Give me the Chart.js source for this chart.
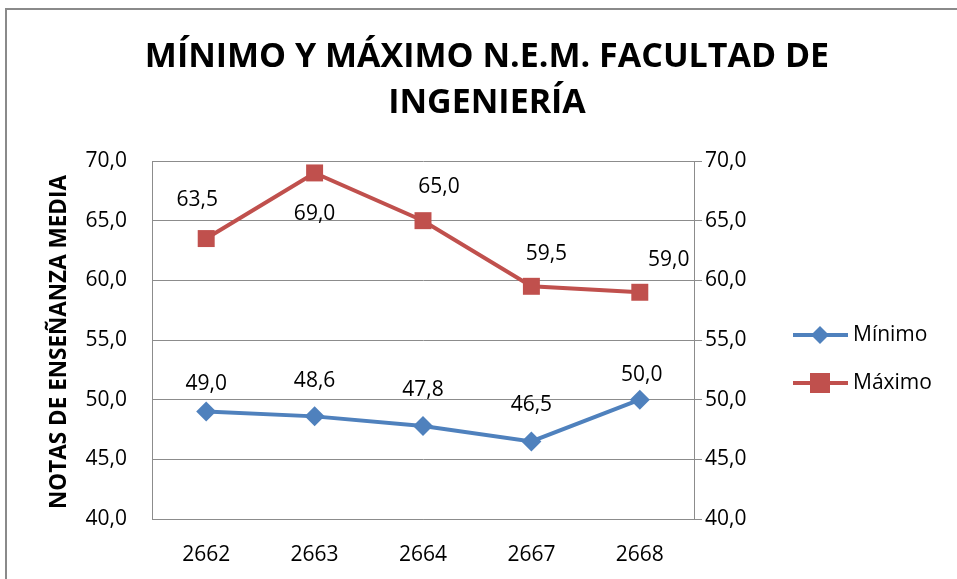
<!DOCTYPE html>
<html lang="es">
<head>
<meta charset="UTF-8">
<title>Mínimo y Máximo N.E.M. Facultad de Ingeniería</title>
<script src="https://cdn.jsdelivr.net/npm/chart.js@4.4.0/dist/chart.umd.min.js"></script>
<style>
    html, body { margin: 0; padding: 0; background: #ffffff; }
    #wrap { position: relative; width: 957px; height: 579px; }
</style>
</head>
<body>
<div id="wrap"><canvas id="nemChart" width="957" height="579"></canvas></div>
<script>
// datos
const carreras = ['2662', '2663', '2664', '2667', '2668'];
const minimo = [49.0, 48.6, 47.8, 46.5, 50.0];
const maximo = [63.5, 69.0, 65.0, 59.5, 59.0];
const yTicks = [40, 45, 50, 55, 60, 65, 70];

const FONT = "'Open Sans', 'DejaVu Sans', sans-serif";
const BLUE = '#4f81bd';
const RED = '#c0504d';
const GRID = '#8c8c8c';

// desplazamiento de las etiquetas respecto al punto (px)
const labelShift = {
    0: { dx: [0, 0, 0, 0, 2], dy: [-28, -35, -36, -36, -25] },
    1: { dx: [-9, 0, 16, 15, 29], dy: [-39, 41, -34, -32, -32] }
};

const fmt = v => v.toFixed(1).replace('.', ',');

const decor = {
    id: 'decor',
    afterDraw(chart) {
        const ctx = chart.ctx;
        const area = chart.chartArea;
        ctx.save();
        // marco
        ctx.strokeStyle = '#8a8a8a';
        ctx.lineWidth = 2;
        ctx.strokeRect(6, 9, 1000, 1000);

        // titulo
        ctx.fillStyle = '#000';
        ctx.textAlign = 'center';
        ctx.textBaseline = 'middle';
        ctx.font = 'bold 34px ' + FONT;
        ctx.fillText('MÍNIMO Y MÁXIMO N.E.M. FACULTAD DE', 487, 57);
        ctx.fillText('INGENIERÍA', 487, 103);

        // titulo eje Y
        ctx.save();
        ctx.translate(60, (area.top + area.bottom) / 2 + 2);
        ctx.rotate(-Math.PI / 2);
        ctx.font = 'bold 22.5px ' + FONT;
        ctx.fillText('NOTAS DE ENSEÑANZA MEDIA', 0, 0);
        ctx.restore();

        // etiquetas de datos
        ctx.font = '21px ' + FONT;
        chart.data.datasets.forEach((ds, di) => {
            const meta = chart.getDatasetMeta(di);
            meta.data.forEach((pt, i) => {
                const s = labelShift[di];
                ctx.fillText(fmt(ds.data[i]), pt.x + s.dx[i], pt.y + s.dy[i]);
            });
        });

        // leyenda
        const items = [
            { label: 'Mínimo', color: BLUE, y: 335, style: 'rectRot', r: 9 },
            { label: 'Máximo', color: RED, y: 383, style: 'rect', r: 10 }
        ];
        items.forEach(it => {
            ctx.strokeStyle = it.color;
            ctx.lineWidth = 4;
            ctx.beginPath();
            ctx.moveTo(793, it.y);
            ctx.lineTo(848, it.y);
            ctx.stroke();
            ctx.fillStyle = it.color;
            if (it.style === 'rect') {
                ctx.fillRect(820 - it.r, it.y - it.r, it.r * 2, it.r * 2);
            } else {
                ctx.beginPath();
                ctx.moveTo(820, it.y - it.r);
                ctx.lineTo(820 + it.r, it.y);
                ctx.lineTo(820, it.y + it.r);
                ctx.lineTo(820 - it.r, it.y);
                ctx.closePath();
                ctx.fill();
            }
            ctx.fillStyle = '#000';
            ctx.textAlign = 'left';
            ctx.fillText(it.label, 853, it.y);
        });
        ctx.restore();
    }
};

const yCommon = {
    min: 40,
    max: 70,
    afterBuildTicks: s => { s.ticks = yTicks.map(v => ({ value: v })); },
    ticks: {
        color: '#000',
        font: { family: FONT, size: 21 },
        callback: v => fmt(v)
    }
};

new Chart(document.getElementById('nemChart'), {
    type: 'line',
    data: {
        labels: carreras,
        datasets: [
            {
                label: 'Mínimo',
                data: minimo,
                borderColor: BLUE,
                backgroundColor: BLUE,
                borderWidth: 4,
                pointStyle: 'rectRot',
                pointRadius: 10,
                pointBorderWidth: 0,
                yAxisID: 'y'
            },
            {
                label: 'Máximo',
                data: maximo,
                borderColor: RED,
                backgroundColor: RED,
                borderWidth: 4,
                pointStyle: 'rect',
                pointRadius: 12,
                pointBorderWidth: 0,
                yAxisID: 'y'
            }
        ]
    },
    options: {
        responsive: false,
        animation: false,
        layout: { padding: { top: 161, right: 193, left: 0, bottom: 0 } },
        plugins: {
            legend: { display: false },
            title: { display: false },
            tooltip: { enabled: false }
        },
        scales: {
            x: {
                offset: true,
                grid: { display: false, drawTicks: false },
                border: { display: true, color: GRID, width: 1 },
                ticks: { color: '#000', font: { family: FONT, size: 21 }, padding: 23 },
                afterFit: s => { s.height = 60; }
            },
            y: Object.assign({}, yCommon, {
                position: 'left',
                grid: { color: GRID, lineWidth: 1, drawTicks: false },
                border: { display: true, color: GRID, width: 1 },
                ticks: Object.assign({}, yCommon.ticks, { padding: 25 }),
                afterFit: s => { s.width = 152; }
            }),
            y1: Object.assign({}, yCommon, {
                position: 'right',
                grid: { drawOnChartArea: false, color: GRID, tickLength: 8 },
                border: { display: true, color: GRID, width: 1 },
                ticks: Object.assign({}, yCommon.ticks, { padding: 3 }),
                afterFit: s => { s.width = 70; }
            })
        }
    },
    plugins: [decor]
});
</script>
</body>
</html>
